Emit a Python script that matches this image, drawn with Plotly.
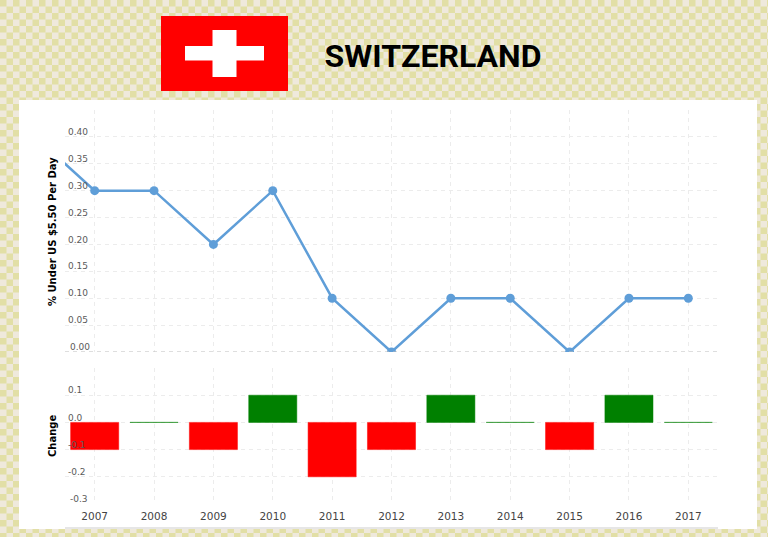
import base64
import plotly.graph_objects as go
from plotly.subplots import make_subplots

W, H = 768, 537

# line starts at 2006, the axis clips it at 2006.5
years = [2006, 2007, 2008, 2009, 2010, 2011, 2012, 2013, 2014, 2015, 2016, 2017]
pct_under = [0.40, 0.30, 0.30, 0.20, 0.30, 0.10, 0.00, 0.10, 0.10, 0.00, 0.10, 0.10]

change_years = [2007, 2008, 2009, 2010, 2011, 2012, 2013, 2014, 2015, 2016, 2017]
change = [-0.1, 0.0, -0.1, 0.1, -0.2, -0.1, 0.1, 0.0, -0.1, 0.1, 0.0]
change_colors = ['green' if c >= 0 else 'red' for c in change]
edge_colors = ['rgba(0,128,0,0.5)' if c >= 0 else 'rgba(255,0,0,0.5)' for c in change]

top_ticks = [0.00, 0.05, 0.10, 0.15, 0.20, 0.25, 0.30, 0.35, 0.40, 0.45]
top_labels = ['', '0.05', '0.10', '0.15', '0.20', '0.25', '0.30', '0.35', '0.40', '']
low_ticks = [-0.3, -0.2, -0.1, 0.0, 0.1, 0.2]
low_labels = ['', '-0.2', '-0.1', '0.0', '0.1', '']

GRID = '#ececec'
DASH = '4px,4px'
TICK = dict(family='DejaVu Sans', size=9, color='#5a5a5a')

fig = make_subplots(rows=2, cols=1, shared_xaxes=True, row_heights=[242, 136],
                    vertical_spacing=16 / 394)

fig.add_trace(go.Scatter(x=years, y=pct_under, mode='lines+markers',
                         line=dict(color='#5f9ed8', width=2.5),
                         marker=dict(color='#5f9ed8', size=9)), row=1, col=1)
fig.add_trace(go.Bar(x=change_years, y=change, width=0.81,
                     marker=dict(color=change_colors,
                                 line=dict(color=edge_colors, width=1))),
              row=2, col=1)

fig.update_xaxes(range=[2006.5, 2017.5], tickmode='array', tickvals=change_years,
                 showgrid=True, gridcolor=GRID, griddash=DASH, gridwidth=1,
                 zeroline=False, showline=False, ticks='')
fig.update_xaxes(showticklabels=True, ticklabelstandoff=4,
                 tickfont=dict(family='DejaVu Sans', size=10.5, color='#444444'),
                 row=2, col=1)
fig.update_yaxes(showgrid=True, gridcolor=GRID, griddash=DASH, gridwidth=1,
                 showline=False, ticks='', tickfont=TICK, tickmode='array',
                 ticklabelposition='inside', zeroline=False, ticklabelshift=-5)
fig.update_yaxes(range=[0, 0.45], tickvals=top_ticks, ticktext=top_labels, row=1, col=1)
fig.update_yaxes(range=[-0.3, 0.2], tickvals=low_ticks, ticktext=low_labels, row=2, col=1)

# dashed baselines
fig.add_hline(y=0, line=dict(color='#bdbdbd', width=1, dash=DASH), row=1, col=1)
fig.add_hline(y=0, line=dict(color='#d8d8d8', width=1, dash=DASH), layer='below', row=2, col=1)

# inside labels at the axis ends get hidden by plotly, so these two are annotations
fig.add_annotation(text='0.00', xref='x domain', yref='y', x=3 / 653, y=0, yshift=5,
                   xanchor='left', yanchor='middle', showarrow=False, font=TICK)
fig.add_annotation(text='-0.3', xref='x2 domain', yref='y2', x=3 / 653, y=-0.3, yshift=5,
                   xanchor='left', yanchor='middle', showarrow=False, font=TICK)

# checker background
cell = 6.5
svg = (f'<svg xmlns="http://www.w3.org/2000/svg" width="{W}" height="{H}">'
       f'<defs><pattern id="c" width="{2 * cell}" height="{2 * cell}" patternUnits="userSpaceOnUse">'
       f'<rect width="{2 * cell}" height="{2 * cell}" fill="#efe9dc"/>'
       f'<rect width="{cell}" height="{cell}" fill="#e2dfa6"/>'
       f'<rect x="{cell}" y="{cell}" width="{cell}" height="{cell}" fill="#e2dfa6"/>'
       f'</pattern></defs><rect width="{W}" height="{H}" fill="url(#c)"/></svg>')
bg = 'data:image/svg+xml;base64,' + base64.b64encode(svg.encode()).decode()
fig.add_layout_image(source=bg, xref='paper', yref='paper', x=-65 / 653, y=1 + 110 / 394,
                     sizex=W / 653, sizey=H / 394, xanchor='left', yanchor='top',
                     sizing='stretch', layer='below')


def px_rect(x0, y0, x1, y1, color, layer='below'):
    fig.add_shape(type='rect', xref='paper', yref='paper',
                  x0=(x0 - 65) / 653, x1=(x1 - 65) / 653,
                  y0=(504 - y0) / 394, y1=(504 - y1) / 394,
                  fillcolor=color, line_width=0, layer=layer)


px_rect(19, 100, 757, 529, 'white')
px_rect(65, 527, 718, 529, '#e6e6e6')
# flag
px_rect(161, 16, 288, 91, '#ff0000')
px_rect(185, 46, 264, 60.5, 'white')
px_rect(212.5, 30, 236.5, 77, 'white')

fig.add_annotation(text='% Under US $5.50 Per Day', xref='paper', yref='paper',
                   x=(52 - 65) / 653, y=(504 - 232) / 394, textangle=-90, showarrow=False,
                   xanchor='center', yanchor='middle',
                   font=dict(family='DejaVu Sans', size=10, color='black', weight='bold'))
fig.add_annotation(text='Change', xref='paper', yref='paper',
                   x=(52 - 65) / 653, y=(504 - 436) / 394, textangle=-90, showarrow=False,
                   xanchor='center', yanchor='middle',
                   font=dict(family='DejaVu Sans', size=10, color='black', weight='bold'))

fig.update_layout(width=W, height=H, showlegend=False,
                  margin=dict(l=65, r=50, t=110, b=33),
                  paper_bgcolor='#efe9dc', plot_bgcolor='rgba(0,0,0,0)',
                  title=dict(text='<b>SWITZERLAND</b>', x=433 / W, xanchor='center',
                             y=1 - 56 / H, yanchor='middle',
                             font=dict(family='Roboto', size=32, color='black')))

fig.write_html("out.html", config={'displayModeBar': False},
               post_script="document.body.style.margin='0';")
